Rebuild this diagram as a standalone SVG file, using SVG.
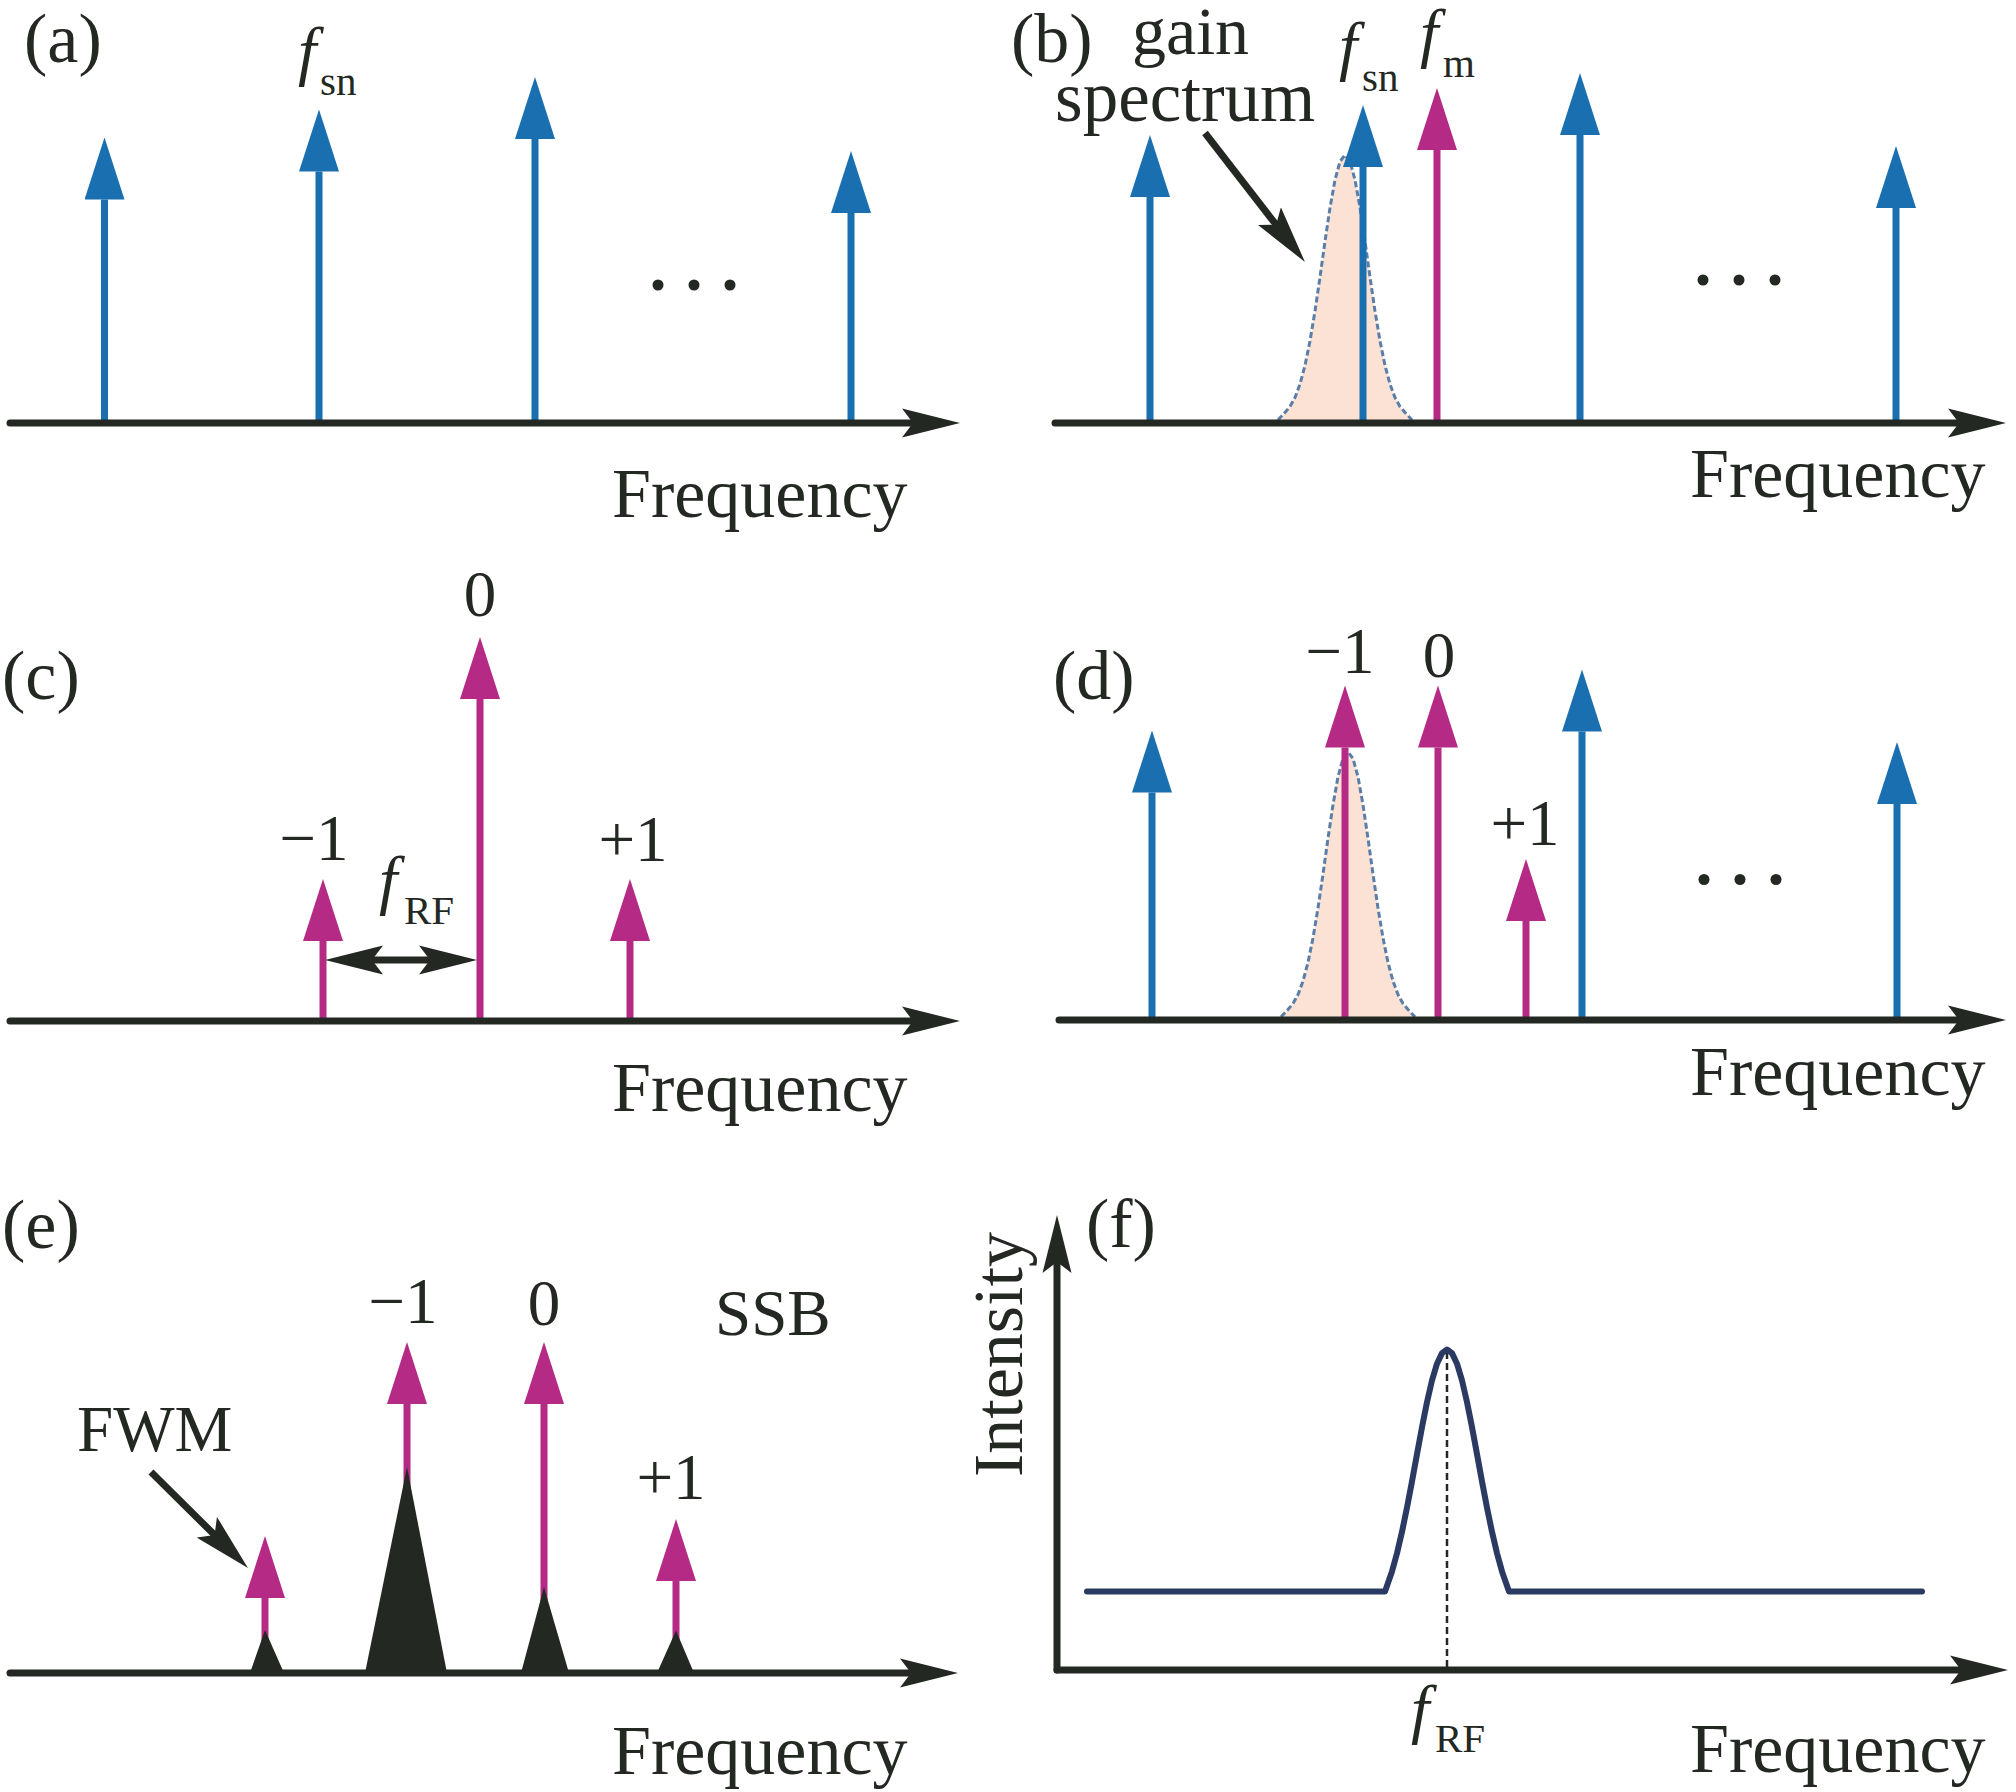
<svg xmlns="http://www.w3.org/2000/svg" width="2016" height="1792" viewBox="0 0 2016 1792">
<style>
.t{font-family:"Liberation Serif","Times New Roman",serif;fill:#232823;font-size:65px}
.lab{font-size:70px}
.fq{font-size:70px}
.it{font-style:italic;font-size:66px}
.sub{font-size:41px}
.mid{text-anchor:middle}
.ax{stroke:#232823;stroke-width:7;fill:none;stroke-linecap:round;marker-end:url(#ah)}
.ann{stroke:#232823;stroke-width:7;fill:none;marker-end:url(#ah)}
.sb{stroke:#1a6fb0;stroke-width:7;marker-end:url(#hb)}
.sm{stroke:#b52a84;stroke-width:7;marker-end:url(#hm)}
.gain{fill:#fbe2d4;stroke:#5a7ea8;stroke-width:3;stroke-dasharray:6 3}
.pk{fill:#232823}
.dot{fill:#232823}
</style>
<defs>
<marker id="ah" markerUnits="userSpaceOnUse" viewBox="0 0 58 30" markerWidth="58" markerHeight="30" refX="14" refY="15" orient="auto-start-reverse">
<path d="M0,0.5 L58,15 L0,29.5 L11,15 Z" fill="#232823"/>
</marker>
<marker id="hb" markerUnits="userSpaceOnUse" viewBox="0 0 62 40" markerWidth="62" markerHeight="40" refX="0" refY="20" orient="auto">
<path d="M0,0 L62,20 L0,40 Z" fill="#1a6fb0"/>
</marker>
<marker id="hm" markerUnits="userSpaceOnUse" viewBox="0 0 62 40" markerWidth="62" markerHeight="40" refX="0" refY="20" orient="auto">
<path d="M0,0 L62,20 L0,40 Z" fill="#b52a84"/>
</marker>
<path id="gauss" d="M-67,0 L-60,-7.6 L-55,-13.4 L-50,-22.4 L-45,-35.9 L-40,-54.6 L-35,-79 L-30,-108.9 L-25,-142.9 L-20,-178.6 L-15,-212.2 L-10,-240.1 L-5,-258.5 L0,-265 L5,-258.5 L10,-240.1 L15,-212.2 L20,-178.6 L25,-142.9 L30,-108.9 L35,-79 L40,-54.6 L45,-35.9 L50,-22.4 L55,-13.4 L60,-7.6 L67,0"/>
</defs>

<g id="panel-a">
<line class="sb" x1="104.5" y1="423" x2="104.5" y2="199.5"/>
<line class="sb" x1="319" y1="423" x2="319" y2="171.5"/>
<line class="sb" x1="535" y1="423" x2="535" y2="139"/>
<line class="sb" x1="851" y1="423" x2="851" y2="213"/>
<line class="ax" x1="10" y1="423" x2="916" y2="423"/>
<circle class="dot" cx="658" cy="285" r="5.5"/>
<circle class="dot" cx="694" cy="285" r="5.5"/>
<circle class="dot" cx="730" cy="285" r="5.5"/>
<text class="t lab" x="24" y="62">(a)</text>
<text class="t it" x="298" y="73">f</text>
<text class="t sub" x="320" y="95">sn</text>
<text class="t fq" x="612" y="517">Frequency</text>
</g>

<g id="panel-b">
<use href="#gauss" class="gain" transform="translate(1345,420)"/>
<line class="sb" x1="1150" y1="423" x2="1150" y2="197"/>
<line class="sb" x1="1363" y1="423" x2="1363" y2="167"/>
<line class="sb" x1="1580" y1="423" x2="1580" y2="135"/>
<line class="sb" x1="1896" y1="423" x2="1896" y2="208"/>
<line class="sm" x1="1437" y1="423" x2="1437" y2="150"/>
<line class="ax" x1="1055" y1="423" x2="1962" y2="423"/>
<circle class="dot" cx="1703" cy="280" r="5.5"/>
<circle class="dot" cx="1739" cy="280" r="5.5"/>
<circle class="dot" cx="1775" cy="280" r="5.5"/>
<text class="t lab" x="1011" y="62">(b)</text>
<text class="t" style="font-size:68px" x="1132" y="54">gain</text>
<text class="t" style="font-size:71px" x="1055" y="121">spectrum</text>
<text class="t it" x="1339" y="68">f</text>
<text class="t sub" x="1362" y="91">sn</text>
<text class="t it" x="1420" y="55">f</text>
<text class="t sub" x="1443" y="77">m</text>
<text class="t fq" x="1690" y="497">Frequency</text>
</g>

<g id="panel-c">
<line class="sm" x1="323" y1="1021" x2="323" y2="941"/>
<line class="sm" x1="480" y1="1021" x2="480" y2="699"/>
<line class="sm" x1="630" y1="1021" x2="630" y2="941"/>
<line class="ax" x1="10" y1="1021" x2="916" y2="1021"/>
<text class="t lab" x="2" y="699">(c)</text>
<text class="t mid" x="480" y="616">0</text>
<text class="t mid" x="314" y="860">−1</text>
<text class="t mid" x="633" y="861">+1</text>
<text class="t it" x="379" y="902">f</text>
<text class="t sub" x="404" y="924">RF</text>
<text class="t fq" x="612" y="1111">Frequency</text>
</g>

<g id="panel-d">
<use href="#gauss" class="gain" transform="translate(1348,1017)"/>
<line class="sb" x1="1152" y1="1020" x2="1152" y2="792.5"/>
<line class="sb" x1="1582" y1="1020" x2="1582" y2="731.5"/>
<line class="sb" x1="1897" y1="1020" x2="1897" y2="804"/>
<line class="sm" x1="1345" y1="1020" x2="1345" y2="747.5"/>
<line class="sm" x1="1438" y1="1020" x2="1438" y2="747.5"/>
<line class="sm" x1="1526" y1="1020" x2="1526" y2="921"/>
<line class="ax" x1="1059" y1="1020" x2="1962" y2="1020"/>
<circle class="dot" cx="1704" cy="879.5" r="5.5"/>
<circle class="dot" cx="1740" cy="879.5" r="5.5"/>
<circle class="dot" cx="1776" cy="879.5" r="5.5"/>
<text class="t lab" x="1053" y="699">(d)</text>
<text class="t mid" x="1340" y="673">−1</text>
<text class="t mid" x="1439" y="677">0</text>
<text class="t mid" x="1525" y="845">+1</text>
<text class="t fq" x="1690" y="1095">Frequency</text>
</g>

<g id="panel-e">
<line class="sm" x1="265" y1="1673" x2="265" y2="1598"/>
<line class="sm" x1="407" y1="1673" x2="407" y2="1404"/>
<line class="sm" x1="544" y1="1673" x2="544" y2="1404"/>
<line class="sm" x1="676" y1="1673" x2="676" y2="1581"/>
<polygon class="pk" points="250,1673 265,1630 284,1673"/>
<polygon class="pk" points="365,1673 407,1467 447,1673"/>
<polygon class="pk" points="521,1673 544,1587 569,1673"/>
<polygon class="pk" points="657,1673 676,1630.5 694,1673"/>
<line class="ax" x1="10" y1="1673" x2="914" y2="1673"/>
<text class="t lab" x="2" y="1248">(e)</text>
<text class="t mid" x="403" y="1323">−1</text>
<text class="t mid" x="544" y="1325">0</text>
<text class="t" x="715" y="1335">SSB</text>
<text class="t" x="77" y="1451">FWM</text>
<text class="t mid" x="671" y="1499">+1</text>
<text class="t fq" x="612" y="1774">Frequency</text>
</g>

<g id="panel-f">
<line class="ax" x1="1057" y1="1670" x2="1057" y2="1259"/>
<line class="ax" x1="1057" y1="1670" x2="1964" y2="1670"/>
<line x1="1447" y1="1352" x2="1447" y2="1668" stroke="#232823" stroke-width="2.5" stroke-dasharray="7 4"/>
<path d="M1087,1591.5 L1385,1591.5 L1392,1571.4 L1397,1553.2 L1402,1531.8 L1407,1507.6 L1412,1481.4 L1417,1454.1 L1422,1427.2 L1427,1402.1 L1432,1380.4 L1437,1363.7 L1442,1353.1 L1447,1349.5 L1452,1353.1 L1457,1363.7 L1462,1380.4 L1467,1402.1 L1472,1427.2 L1477,1454.1 L1482,1481.4 L1487,1507.6 L1492,1531.8 L1497,1553.2 L1502,1571.4 L1509,1591.5 L1922,1591.5" fill="none" stroke="#2b3a63" stroke-width="6" stroke-linecap="round" stroke-linejoin="round"/>
<text class="t lab" x="1086" y="1247">(f)</text>
<text class="t lab" transform="translate(1022,1477) rotate(-90)">Intensity</text>
<text class="t it" x="1411" y="1731">f</text>
<text class="t sub" x="1435" y="1752">RF</text>
<text class="t fq" x="1690" y="1772">Frequency</text>
</g>

<g id="connectors">
<line class="ann" x1="1205" y1="133" x2="1278" y2="227.2"/>
<line class="ann" x1="369" y1="960" x2="433" y2="960" marker-start="url(#ah)"/>
<line class="ann" x1="151" y1="1472" x2="216.7" y2="1537.1"/>
</g>
</svg>
